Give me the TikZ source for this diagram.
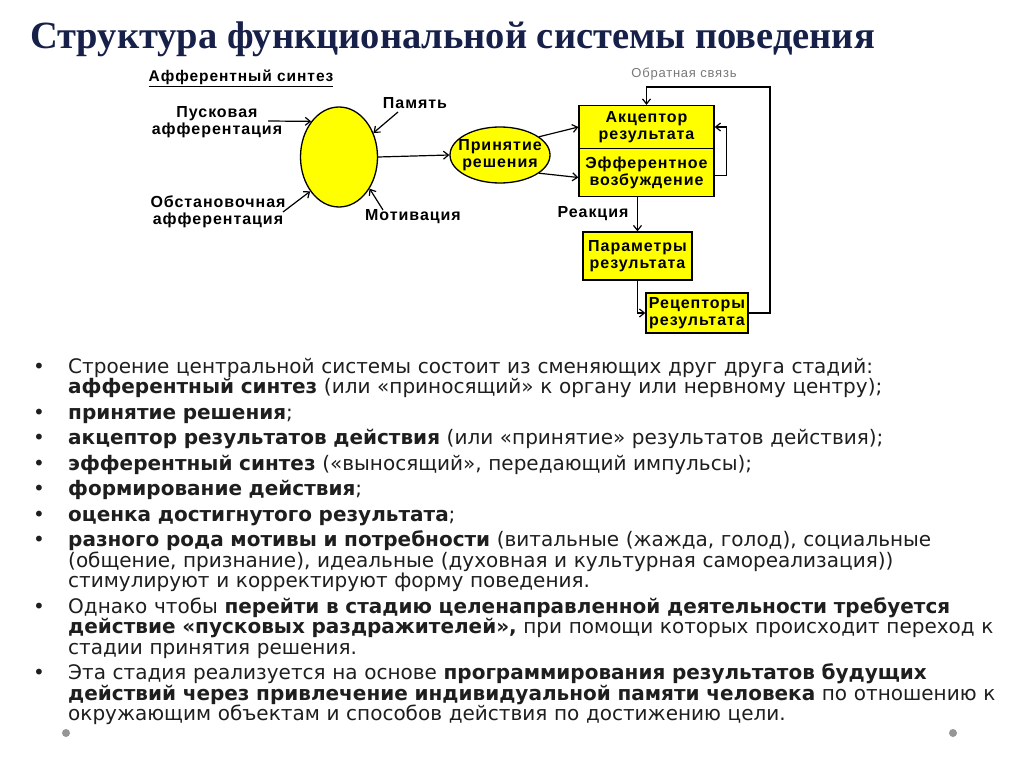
\documentclass[tikz,border=0pt]{standalone}
\usepackage{fontspec}
\setmainfont{DejaVu Sans}
\newfontfamily\headfont{Liberation Serif}
\newfontfamily\labelfont[LetterSpace=6]{Liberation Sans}
\usetikzlibrary{shapes.geometric,arrows.meta,positioning}

\definecolor{stageyellow}{RGB}{255,255,0}
\definecolor{inkgray}{RGB}{30,30,30}
\definecolor{headnavy}{RGB}{22,32,72}
\definecolor{dotgray}{RGB}{150,150,150}

\newcommand\stageitem{\par\noindent\llap{\makebox[35pt][l]{•}}}

\begin{document}
\begin{tikzpicture}[x=1pt,y=-1pt,
  arr/.style={line width=1.2pt,-{Straight Barb[length=5pt,width=8pt]}},
  lbl/.style={inner sep=0pt,align=center,font=\labelfont\bfseries\fontsize{16}{17}\selectfont},
  stagebox/.style={draw,line width=1.3pt,fill=stageyellow,inner sep=0pt,align=center,
    font=\labelfont\bfseries\fontsize{16}{17}\selectfont},
  blob/.style={ellipse,draw,line width=1.3pt,fill=stageyellow,inner sep=0pt,align=center,
    font=\labelfont\bfseries\fontsize{16}{17}\selectfont}]
  \useasboundingbox[fill=white] (0,0) rectangle (1024,767);

  % title
  \node[anchor=base west,inner sep=0pt,text=headnavy,font=\headfont\bfseries\fontsize{38.5}{42}\selectfont]
    (title) at (30,49) {Структура функциональной системы поведения};

  % afferent synthesis
  \node[lbl,font=\labelfont\bfseries\fontsize{15.5}{17}\selectfont] (afftitle) at (241,78) {\underline{Афферентный синтез}};
  \node[blob,minimum width=77,minimum height=100] (synth) at (339,157) {};
  \node[lbl] (trigger) at (217,122) {Пусковая\\афферентация};
  \node[lbl] (setting) at (218,212) {Обстановочная\\афферентация};
  \node[lbl] (memory) at (415,103) {Память};
  \node[lbl] (motive) at (413,217) {Мотивация};

  % decision and action
  \node[blob,inner xsep=-10pt,minimum width=100,minimum height=56] (decision) at (500,155) {Принятие\\решения};
  \node[stagebox,minimum width=135,minimum height=43] (acceptor) at (646.5,127) {Акцептор\\результата};
  \node[stagebox,minimum width=135,minimum height=48] (efferent) at (646.5,172.5) {Эфферентное\\возбуждение};
  \node[stagebox,minimum width=109,minimum height=48] (params) at (637.5,256) {Параметры\\результата};
  \node[stagebox,minimum width=102,minimum height=40] (receptors) at (697,313) {Рецепторы\\результата};
  \node[lbl] (reaction) at (593,214) {Реакция};
  \node[inner sep=0pt,text=dotgray!80!black,font=\labelfont\fontsize{13}{14}\selectfont] (feedback) at (684,74) {Обратная связь};

  \coordinate (trigtail) at (268,121);
  \coordinate (settail) at (283,212);
  \coordinate (memtail) at (398,112);
  \coordinate (mottail) at (383,210);
  \coordinate (fbcorner) at (770,87);

  % connectors
  \draw[arr] (trigtail) -- (synth.128);
  \draw[arr] (settail) -- (synth.230);
  \draw[arr] (memtail) -- (synth.35);
  \draw[arr] (mottail) -- (synth.314);
  \draw[arr] (synth.east) -- (decision.west);
  \draw[arr] (decision.25) -- (acceptor.west);
  \draw[arr] (decision.-25) -- ([yshift=-5pt]efferent.west);
  \draw[arr] ([yshift=-3pt]efferent.east) -- ++(12,0) |- (acceptor.east);
  \draw[arr] (efferent.south -| params.north) -- (params.north);
  \draw[arr] (params.south) |- (receptors.west);
  \draw[arr] (receptors.east) -| (fbcorner) -| (acceptor.north);

  % stages list
  \node[anchor=north west,inner sep=0pt,text width=975,align=left,text=inkgray,
    font=\fontsize{20}{20.5}\selectfont] (stages) at (33,347.5) {\setlength\parskip{5pt}%
\leftskip=35pt\lineskiplimit=-20pt%
\stageitem Строение центральной системы состоит из сменяющих друг друга стадий:\\
\textbf{афферентный синтез} (или «приносящий» к органу или нервному центру);
\stageitem \textbf{принятие решения};
\stageitem \textbf{акцептор результатов действия} (или «принятие» результатов действия);
\stageitem \textbf{эфферентный синтез} («выносящий», передающий импульсы);
\stageitem \textbf{формирование действия};
\stageitem \textbf{оценка достигнутого результата};
\stageitem \textbf{разного рода мотивы и потребности} (витальные (жажда, голод), социальные\\
(общение, признание), идеальные (духовная и культурная самореализация))\\
стимулируют и корректируют форму поведения.
\stageitem Однако чтобы \textbf{перейти в стадию целенаправленной деятельности требуется}\\
\textbf{действие «пусковых раздражителей»,} при помощи которых происходит переход к\\
стадии принятия решения.
\stageitem Эта стадия реализуется на основе \textbf{программирования результатов будущих}\\
\textbf{действий через привлечение индивидуальной памяти человека} по отношению к\\
окружающим объектам и способов действия по достижению цели.\par};

  % slide dots
  \fill[dotgray] (66,733) circle (4);
  \fill[dotgray] (953,733) circle (4);
\end{tikzpicture}
\end{document}
